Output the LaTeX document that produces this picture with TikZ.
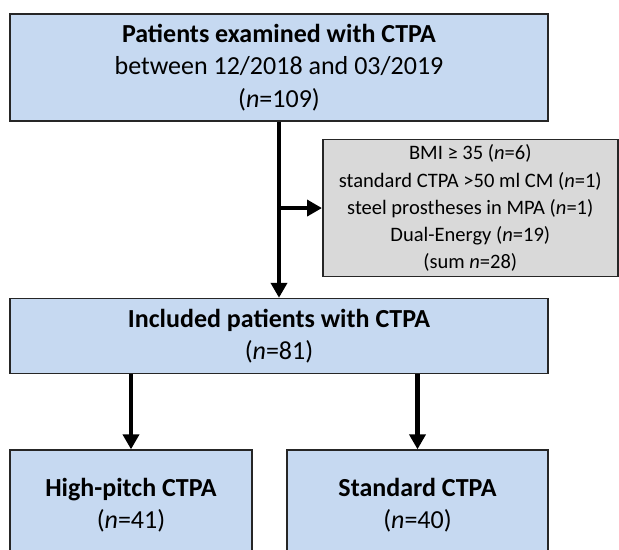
\documentclass[tikz,border=0pt]{standalone}
\usepackage{fontspec}
\setmainfont{Carlito}
\usetikzlibrary{arrows.meta, positioning}
\definecolor{BoxBlue}{RGB}{198, 217, 241}
\definecolor{BoxGrey}{RGB}{217, 217, 217}
\definecolor{EdgeGrey}{RGB}{38, 38, 38}

\begin{document}
\begin{tikzpicture}[every node/.style={font=\fontsize{18.5}{23}\selectfont, align=center},
    bluebox/.style={draw=EdgeGrey, line width=1.1pt, rectangle, fill=BoxBlue, inner sep=0pt},
    greybox/.style={draw=EdgeGrey, line width=1.1pt, rectangle, fill=BoxGrey, inner sep=0pt, font=\fontsize{14.6}{19.3}\selectfont},
    arr/.style={line width=2.9pt, -{Triangle[length=0.375cm, width=0.4cm]}}]
            \useasboundingbox (0,0) rectangle (15.475,-13.725);
            \clip (0,0) rectangle (15.475,-13.725);

            \node[bluebox, minimum width=13.45cm, minimum height=2.675cm] (start) at (6.975,-1.6875) {\textbf{Patients examined with CTPA}\\between 12/2018 and 03/2019\\(\textit{n}=109)};
            \node[greybox, minimum width=7.375cm, minimum height=3.425cm, below right=0.425cm and 1.075cm of start.south] (excl) {BMI ≥ 35 (\textit{n}=6)\\standard CTPA >50 ml CM (\textit{n}=1)\\steel prostheses in MPA (\textit{n}=1)\\Dual-Energy (\textit{n}=19)\\(sum \textit{n}=28)};
            \node[bluebox, minimum width=13.45cm, minimum height=1.875cm, below=4.4cm of start] (incl) {\textbf{Included patients with CTPA}\\(\textit{n}=81)};

            \node[bluebox, minimum width=6.05cm, minimum height=2.75cm, below right=1.875cm and 0cm of incl.south west] (high) {\textbf{High-pitch CTPA}\\(\textit{n}=41)};
            \node[bluebox, minimum width=6.525cm, minimum height=2.75cm, below left=1.875cm and 0cm of incl.south east] (std) {\textbf{Standard CTPA}\\(\textit{n}=40)};

            \draw[arr] (start) -- (incl);
            \draw[arr] (start.south |- excl.west) -- (excl.west);
            \draw[arr] (high.north |- incl.south) -- (high);
            \draw[arr] (std.north |- incl.south) -- (std);
        \end{tikzpicture}
\end{document}
